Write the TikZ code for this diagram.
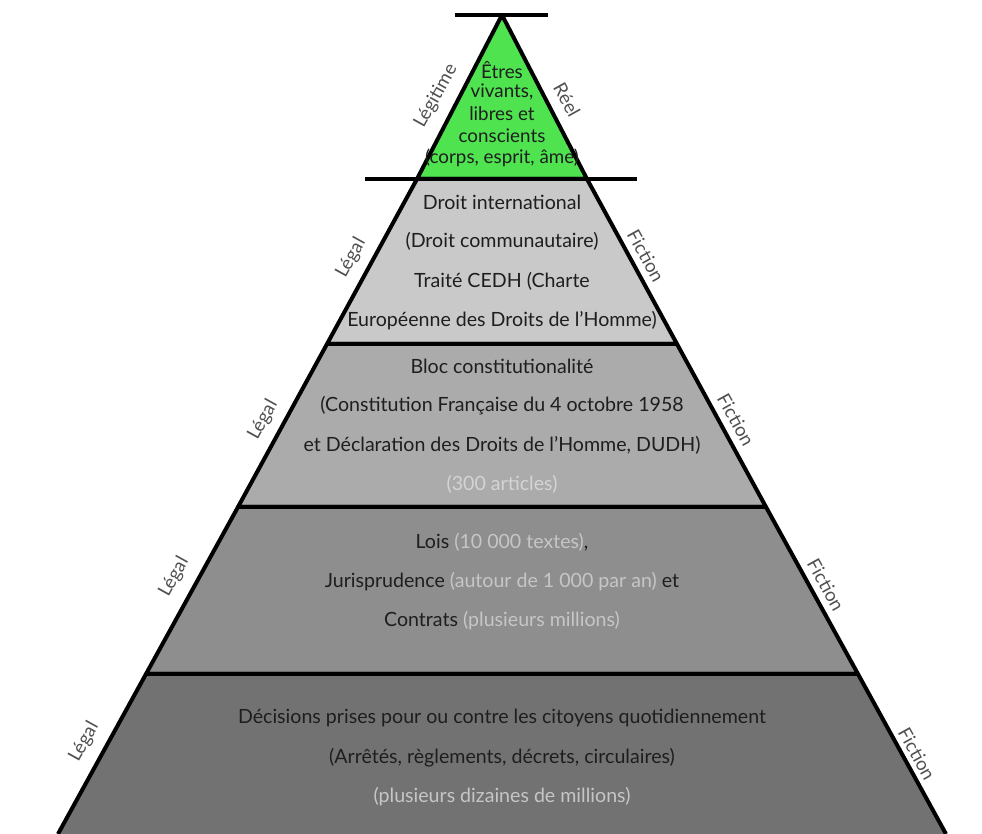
\documentclass[tikz,border=0pt]{standalone}
\usepackage{fontspec}
\setmainfont{Lato}
\usetikzlibrary{positioning}
\definecolor{vert}{HTML}{50E350}
\definecolor{grisA}{HTML}{C9C9C9}
\definecolor{grisB}{HTML}{ABABAB}
\definecolor{grisC}{HTML}{8E8E8E}
\definecolor{grisD}{HTML}{727272}
\definecolor{texte}{HTML}{1E1E1E}
\definecolor{coteg}{HTML}{505050}
\definecolor{paleA}{HTML}{D4D4D4}
\definecolor{paleB}{HTML}{C6C6C6}

\begin{document}
\begin{tikzpicture}[x=0.5pt,y=-0.5pt,line width=2pt,line join=round,
		node distance=19.75pt]
		\tikzstyle{palier}=[draw=black]
		\tikzstyle{ligne}=[text=texte,inner sep=0pt,font=\fontsize{9.8}{11}\selectfont]
		\tikzstyle{sommet}=[text=texte,inner sep=0pt,font=\fontsize{9.4}{11}\selectfont]
		\tikzstyle{cote}=[text=coteg,inner sep=0pt,font=\fontsize{9.3}{10}\selectfont]
		
		\useasboundingbox (0,0) rectangle (982,834);
		
		% paliers de la pyramide
		\draw[palier,fill=vert] (502,15) -- (587,179) -- (417,179) -- cycle;
		\draw[palier,fill=grisA] (417,179) -- (587,179) -- (677,344) -- (327,344) -- cycle;
		\draw[palier,fill=grisB] (327,344) -- (677,344) -- (766,507) -- (238,507) -- cycle;
		\draw[palier,fill=grisC] (238,507) -- (766,507) -- (858,674) -- (146,674) -- cycle;
		\fill[grisD] (146,674) -- (858,674) -- (946,834) -- (58,834) -- cycle;
		\draw (58,834) -- (146,674) -- (858,674) -- (946,834);
		\draw (455,15) -- (548,15);
		\draw (365,179) -- (637,179);
		
		% sommet
		\node[sommet] (g1) at (502,70) {Êtres};
		\node[sommet] (g2) [below of=g1,node distance=11pt] {vivants,};
		\node[sommet] (g3) [below of=g2,node distance=11pt] {libres et};
		\node[sommet] (g4) [below of=g3,node distance=11pt] {conscients};
		\node[sommet] (g5) [below of=g4,node distance=11pt] {(corps, esprit, âme)};
		
		% droit international
		\node[ligne] (a1) at (502,202) {Droit international};
		\node[ligne] (a2) [below of=a1] {(Droit communautaire)};
		\node[ligne] (a3) [below of=a2] {Traité CEDH (Charte};
		\node[ligne] (a4) [below of=a3] {Européenne des Droits de l’Homme)};
		
		% bloc constitutionnel
		\node[ligne] (b1) at (502,366) {Bloc constitutionalité};
		\node[ligne] (b2) [below of=b1] {(Constitution Française du 4 octobre 1958};
		\node[ligne] (b3) [below of=b2] {et Déclaration des Droits de l’Homme, DUDH)};
		\node[ligne,text=paleA] (b4) [below of=b3] {(300 articles)};
		
		% lois
		\node[ligne] (c1) at (502,542) {Lois \textcolor{paleB}{(10 000 textes)},};
		\node[ligne] (c2) [below of=c1] {Jurisprudence \textcolor{paleB}{(autour de 1 000 par an)} et};
		\node[ligne] (c3) [below of=c2] {Contrats \textcolor{paleB}{(plusieurs millions)}};
		
		% decisions
		\node[ligne] (d1) at (502,718) {Décisions prises pour ou contre les citoyens quotidiennement};
		\node[ligne] (d2) [below of=d1] {(Arrêtés, règlements, décrets, circulaires)};
		\node[ligne,text=paleB] (d3) [below of=d2] {(plusieurs dizaines de millions)};
		
		% cotes
		\node[cote,rotate=61] (l0) at (436,96) {Légitime};
		\node[cote,rotate=-61] (r0) at (567,100) {Réel};
		\node[cote,rotate=61] (l1) at (351,258) {Légal};
		\node[cote,rotate=-61] (r1) at (646,256) {Fiction};
		\node[cote,rotate=61] (l2) at (263,420) {Légal};
		\node[cote,rotate=-61] (r2) at (736,420) {Fiction};
		\node[cote,rotate=61] (l3) at (174,577) {Légal};
		\node[cote,rotate=-61] (r3) at (826,585) {Fiction};
		\node[cote,rotate=61] (l4) at (84,742) {Légal};
		\node[cote,rotate=-61] (r4) at (917,754) {Fiction};
\end{tikzpicture}
\end{document}
